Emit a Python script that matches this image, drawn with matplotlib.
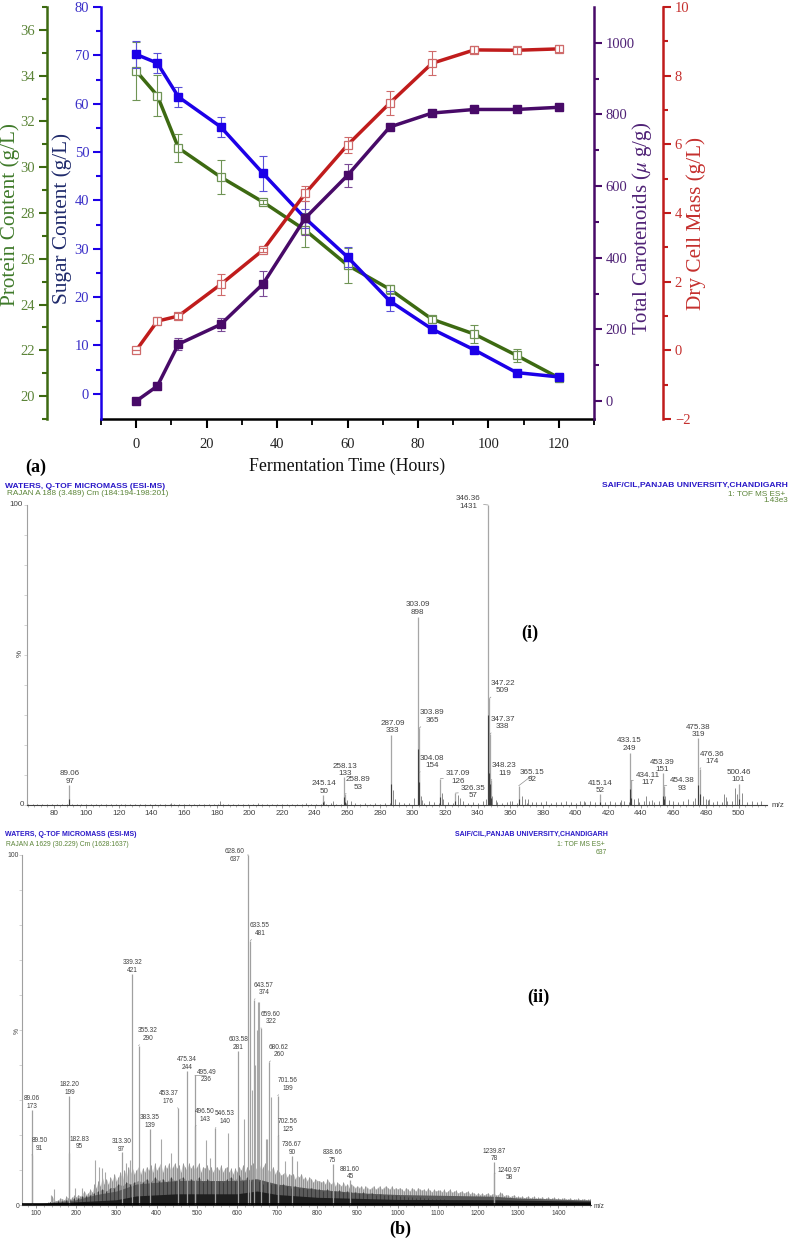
import numpy as np
import matplotlib
matplotlib.use("Agg")
import matplotlib.pyplot as plt
from matplotlib.ticker import MultipleLocator, FixedLocator

plt.rcParams["mathtext.fontset"] = "stix"

W, H = 789, 1238
SERIF = "Liberation Serif"
SANS = "Liberation Sans"

# fermentation time course
hours = [0, 6, 12, 24, 36, 48, 60, 72, 84, 96, 108, 120]
protein = [34.2, 33.13, 30.84, 29.57, 28.48, 27.25, 25.72, 24.67, 23.36, 22.71, 21.78, 20.8]
protein_err = [1.27, 0.9, 0.61, 0.74, 0.1, 0.73, 0.77, 0.2, 0.15, 0.38, 0.3, 0.2]
sugar = [70.2, 68.4, 61.4, 55.2, 45.6, 36.3, 28.3, 19.2, 13.4, 9.1, 4.4, 3.5]
sugar_err = [2.8, 2.0, 2.1, 2.1, 3.6, 2.0, 2.0, 2.0, 0.5, 0.5, 0.5, 0.5]
carotenoids = [0, 42, 159, 214, 327, 511, 630, 765, 804, 814, 814, 820]
carotenoids_err = [0, 0, 16, 19, 35, 47, 32, 0, 0, 0, 0, 0]
dry_mass = [0.0, 0.85, 1.0, 1.92, 2.92, 4.57, 5.98, 7.2, 8.36, 8.75, 8.74, 8.78]
dry_mass_err = [0, 0.12, 0.1, 0.3, 0.05, 0.23, 0.24, 0.36, 0.35, 0.1, 0.1, 0.1]

# spectrum (i), labelled peaks
peak_mz_i = [89.06, 245.14, 258.13, 258.89, 287.09, 303.09, 303.89, 304.08, 317.09, 326.35, 346.36, 347.22,
             347.37, 348.23, 365.15, 415.14, 433.15, 434.11, 453.39, 454.38, 475.38, 476.36, 500.46]
peak_int_i = [97, 50, 133, 53, 333, 898, 365, 154, 126, 57, 1431, 509,
              338, 119, 92, 52, 249, 117, 151, 93, 319, 174, 101]
label_dx_i = [1.5, 0.8, 0.7, 12.7, 1, 0, 13.2, 13.2, 18, 18, -19.7, 13,
              12.7, 13.3, 13, 0, 0, 17, 0, 17.7, 0, 12.2, -1]
label_dy_i = [0, 0, 0, 3.3, 1, 1, 4.5, 3.7, -6.4, -6, -5, 4,
              4, 3.3, 2.7, 0, 1, -6, 0, -6, 0, 3.5, 0.8]

# spectrum (i), unlabelled small peaks, % of base peak
minor_mz_i = [152, 182, 205, 246, 251, 260, 262, 288, 289, 301, 305, 306, 310, 318, 319, 328, 329, 345, 349, 351,
              360, 367, 369, 371, 405, 428, 436, 438, 443, 447, 455, 457, 469, 473, 478, 480, 482, 491, 492, 498, 499, 502]
minor_pct_i = [0.8, 1.2, 0.6, 1.5, 1.2, 1.8, 1.5, 5, 2, 2.5, 3, 1.6, 1.5, 4, 2, 3.2, 2.2, 2, 3, 1.8,
               1.4, 3, 2, 2, 1.5, 1.8, 2, 2.5, 3, 1.8, 3, 1.8, 2, 2.5, 3, 2, 2, 3.6, 2.8, 5.8, 3.6, 4]
# baseline noise on a 3 m/z grid from 64
noise_i = [0.3, 0.2, 0.4, 0.2, 0.3, 0.2, 0.3, 0.4, 0.2, 0.3, 0.2, 0.4, 0.3, 0.2, 0.3, 0.4, 0.2, 0.3, 0.2, 0.3,
           0.4, 0.3, 0.2, 0.4, 0.2, 0.3, 0.2, 0.4, 0.3, 0.2, 0.3, 0.5, 0.3, 0.2, 0.4, 0.3, 0.2, 0.5, 0.3, 0.2,
           0.4, 0.3, 0.2, 0.3, 0.5, 0.3, 0.4, 0.2, 0.3, 0.5, 0.3, 0.4, 0.2, 0.4, 0.5, 0.3, 0.4, 0.6, 0.3, 0.5,
           0.4, 0.3, 0.6, 0.4, 0.5, 0.7, 0.4, 0.6, 0.5, 0.8, 0.5, 0.7, 0.4, 0.8, 0.6, 0.5, 0.9, 0.6, 0.8, 0.5,
           1.0, 0.7, 0.8, 1.1, 0.6, 0.9, 1.0, 0.7, 0.9, 1.2, 0.7, 1.0, 0.8, 1.2, 0.9, 0.7, 1.1, 0.8, 1.0, 1.2,
           0.8, 1.0, 0.7, 1.1, 0.9, 1.0, 1.3, 0.8, 1.1, 0.9, 1.3, 1.0, 0.8, 1.2, 1.0, 1.4, 0.9, 1.2, 1.0, 1.5,
           1.1, 0.9, 1.3, 1.1, 1.5, 1.0, 1.2, 1.4, 1.0, 1.3, 1.5, 1.1, 1.3, 1.0, 1.5, 1.2, 1.4, 1.0, 1.3, 1.6,
           1.1, 1.4, 1.0, 1.5, 1.2, 1.0, 1.4, 1.1, 1.3, 1.0, 1.2]

# spectrum (ii), labelled peaks
peak_mz_ii = [89.06, 89.50, 182.20, 182.83, 313.30, 339.32, 355.32, 383.35, 453.37, 475.34, 495.49, 496.50, 546.53,
              603.58, 628.60, 633.55, 643.57, 659.60, 680.62, 701.56, 702.56, 736.67, 838.66, 881.60, 1239.87, 1240.97]
peak_int_ii = [173, 91, 199, 95, 97, 421, 290, 139, 176, 244, 236, 143, 140,
               281, 637, 481, 374, 322, 260, 199, 125, 90, 75, 45, 78, 58]
label_dx_ii = [0, 7.5, 0.3, 10, 0, 0.3, 9.4, 0, -9.7, 0, 11.3, 9.7, 9.6,
               0, -13.7, 9.6, 9.6, 9.9, 9.4, 10, 9.7, 0, 0, 0, 0, 15.2]
label_dy_ii = [0, 3.3, 0, 2.8, -1, 0, 3.7, 0, 3.3, 0, -7.7, 3.7, 3.3,
               0, -7.7, 4, 3.5, 3, 4, 3.7, 3.6, 0, 0, 0, 0, -8]

# spectrum (ii), unlabelled spikes, % of base peak
minor_mz_ii = [136, 145, 197, 215, 247, 257, 265, 272, 325, 335, 412, 435, 523, 532, 578, 617, 637, 645, 650,
               653, 655, 672, 676, 685, 720, 750]
minor_pct_ii = [3, 4.5, 5, 5, 13, 11, 10.5, 9.5, 12, 13, 19, 15, 18.5, 13.5, 20.5, 24.5, 33, 40, 50,
                58, 58, 19, 19, 31, 12.5, 12.5]
# jagged top of the grass on a 5 m/z grid from 130
grass_light = [0.8, 1, 2.5, 1.5, 1.2, 1.5, 2, 1.8, 1.5, 2.5, 2, 1.8, 2.2, 2.8, 2.4, 3, 2.5, 3.2, 4, 3, 3.5, 4.5, 3.6,
               6, 5, 7, 5.5, 8, 6, 7.5, 6, 8, 7, 9, 7, 8, 9.5, 7, 10, 8, 11, 9, 10.5, 9,
               10, 11, 9, 10.5, 9.5, 11, 10, 11.5, 9.5, 12, 10, 11, 12, 9.5, 11.5, 10.5, 12, 10, 11, 12, 10.5, 11.5,
               9.5, 12, 11, 10, 12, 10.5, 11.5, 10, 11, 12, 9.5, 11, 10.5, 11.5, 10, 11, 9.5, 10.5, 11, 10, 11.5, 9.5,
               10.5, 11, 9.5, 10.5, 9, 10.5, 9.5,
               11, 10, 11.5, 9.5, 11, 10, 11.5, 12, 10, 11, 12, 10, 11, 12, 10.5, 9.5, 10, 11, 9, 10,
               9.5, 8.5, 9, 9.5, 8, 9, 8.5, 9, 7.5, 8.5, 8, 9, 7.5, 8, 7, 8, 7.5, 6.5, 7.5, 7,
               7, 6.5, 7, 6, 7.5, 6.5, 6, 7, 5.5, 6.5, 6, 5.5, 6.5, 5.5, 6, 5, 6, 5.5, 5, 5.5,
               5, 5.5, 4.5, 5.5, 5, 4.5, 5, 5.5, 4.5, 5, 5.5, 4.5, 5, 5.5, 5, 4.5, 5.5, 4.5, 5, 4.5,
               5, 4.5, 4, 5, 4.5, 4, 5, 4.5, 4, 5, 4.5, 4.2, 4.6, 4, 4.8, 4.2, 3.8, 4.5, 4, 4.2,
               4.3, 3.8, 4.5, 3.6, 4, 4.6, 3.6, 3.9, 4.2, 3.4, 3.8, 4, 3.4, 3.7, 4, 3.2, 3.6, 3.4, 3, 3.5,
               3, 3.4, 2.9, 3.2, 3.5, 2.8, 3.1, 3.4, 2.8, 3, 3.6, 3.3, 2.6, 3, 2.8, 2.4, 2.7, 2.9, 2.3, 2.5,
               2.2, 2.6, 2, 2.3, 2.6, 2, 2.2, 2.5, 1.9, 2.2, 2, 2.4, 1.8, 2, 2.3, 1.8, 2, 2.2, 1.7, 2,
               1.6, 1.9, 2.1, 1.6, 1.8, 2, 1.5, 1.8, 1.6, 1.9, 1.5, 1.7, 1.8, 1.5, 1.6, 1.8]
# darker layer on a 10 m/z grid from 135
grass_mid = [1, 1, 1.2, 1.2, 1.5, 1.5, 2, 2, 2.5, 2.5, 3, 3.5, 4, 4.5, 4, 5, 5, 6, 5.5, 6.5, 6, 6.5,
             7, 6.5, 7.5, 6.5, 8, 7, 7.5, 6.5, 8, 7, 7.5, 8, 7, 7.5, 7, 8, 6.5, 7.5, 7, 6.5, 7, 6.5, 7.5, 8, 7, 8.5,
             7, 8, 7, 7.5, 7, 6, 6.5, 6, 6, 5.5, 6, 5.5, 5, 5.5, 5, 5, 4.5, 5, 4.5, 4.5, 4, 4.5, 4, 4, 4.2, 3.8, 4,
             3.6, 3.8, 3.5, 3.6, 3.2, 3.5, 3, 3.2, 3, 3, 2.8, 2.8, 2.5, 2.6, 2.2, 2.4, 2, 2.2, 2, 2, 1.8, 1.8, 1.6,
             1.6, 1.5, 1.5, 1.4, 1.5, 1.3, 1.4, 1.3, 1.3, 1.2, 1.2, 1.2, 1.1, 1.1, 1.1, 1, 1.1, 1, 1, 1, 0.9, 1,
             0.9, 0.9, 0.9, 0.9, 0.8, 0.9, 0.8, 0.8, 0.8, 0.8, 0.7, 0.8, 0.7, 0.7, 0.7]
band_mz = [65, 130, 200, 250, 300, 350, 450, 600, 650, 700, 800, 900, 1000, 1240, 1300, 1480]
band_pct = [0.2, 0.5, 1.5, 3, 4, 6, 7, 7, 7.5, 6, 4.5, 3.5, 3, 2.5, 2, 1.4]
core_mz = [65, 130, 200, 300, 350, 450, 600, 650, 700, 800, 1000, 1240, 1480]
core_pct = [0.3, 0.5, 0.9, 1.5, 2.6, 3.2, 3.2, 4, 3, 2.2, 1.6, 1.5, 1.1]

GREEN, GREEN_T = "#3d6a12", "#5b8438"
BLUE, BLUE_T = "#1c00e8", "#3a2fc8"
PURPLE, PURPLE_T = "#480a68", "#4f2276"
RED, RED_T = "#c01c1c", "#c5302e"


def px_axes(fig, left, top, right, bottom):
    return fig.add_axes([left / W, 1 - bottom / H, (right - left) / W, (bottom - top) / H])


def fig_text(fig, x, y, s, **kw):
    kw.setdefault("ha", "center")
    kw.setdefault("va", "center")
    fig.text(x / W, 1 - y / H, s, **kw)


def style_axis(ax, side, color, tcolor, major, minor, ylim, outward=0):
    ax.set_ylim(*ylim)
    ax.patch.set_visible(False)
    for s in ax.spines.values():
        s.set_visible(False)
    ax.spines[side].set_visible(True)
    ax.spines[side].set_color(color)
    ax.spines[side].set_linewidth(1.8)
    ax.spines[side].set_position(("outward", outward * 0.72))
    ax.yaxis.set_ticks_position(side)
    ax.yaxis.set_major_locator(FixedLocator(major))
    ax.yaxis.set_minor_locator(FixedLocator(minor))
    ax.tick_params(axis="y", which="major", length=6, width=1.5, color=color, labelcolor=tcolor,
                   labelsize=10.5, pad=2.5)
    ax.tick_params(axis="y", which="minor", length=3.6, width=1.5, color=color)
    for t in ax.get_yticklabels():
        t.set_fontfamily(SERIF)


def series(ax, y, err, color, ecolor, filled):
    if filled:
        ax.errorbar(hours, y, yerr=err, color=color, lw=2.5, marker="s", ms=6.4, mfc=color, mec=color,
                    ecolor=ecolor, elinewidth=0.8, capsize=3, capthick=0.8, clip_on=False)
    else:
        # error bars show through the open squares
        ax.plot(hours, y, color=color, lw=2.5, marker="s", ms=6.4, mfc="white", mec=ecolor, mew=0.9, clip_on=False)
        ax.errorbar(hours, y, yerr=err, fmt="none", ecolor=ecolor, elinewidth=0.8, capsize=3, capthick=0.8,
                    clip_on=False, zorder=4)


def spectrum(ax, xlim, step, mz, ints, base, dx, dy, fs, major_color="#a6a6a6"):
    ax.set_xlim(*xlim)
    ax.set_ylim(0, 100)
    ax.patch.set_visible(False)
    ax.spines["top"].set_visible(False)
    ax.spines["right"].set_visible(False)
    ax.spines["left"].set_color("#a0a0a0")
    ax.spines["left"].set_linewidth(0.8)
    ax.spines["bottom"].set_color("#404040")
    ax.spines["bottom"].set_linewidth(0.8)
    ax.xaxis.set_major_locator(MultipleLocator(step))
    ax.xaxis.set_minor_locator(MultipleLocator(step / 5))
    ax.yaxis.set_major_locator(FixedLocator([]))
    ax.yaxis.set_minor_locator(MultipleLocator(10))
    ax.tick_params(axis="x", which="major", length=2, width=0.5, color="#707070", labelsize=fs, pad=1.5,
                   labelcolor="#404040")
    ax.tick_params(axis="x", which="minor", length=1.2, width=0.4, color="#808080")
    ax.tick_params(axis="y", which="minor", length=2, width=0.4, color="#b0b0b0")
    for t in ax.get_xticklabels():
        t.set_fontfamily(SANS)
    pct = [v * 100 / base for v in ints]
    ax.vlines(mz, 0, pct, color=major_color, lw=0.9, zorder=3)
    for m, p, i, ox, oy in zip(mz, pct, ints, dx, dy):
        lead = dict(arrowstyle="-", color="#909090", lw=0.5, shrinkA=0, shrinkB=0) if (abs(ox) > 4) else None
        ax.annotate(f"{m:.2f}\n{i}", xy=(m, p), xytext=(ox * 0.72, oy * 0.72), textcoords="offset points",
                    ha="center", va="bottom", fontsize=fs, family=SANS, color="#404040", linespacing=1.1,
                    arrowprops=lead, annotation_clip=False, zorder=5)


fig = plt.figure(figsize=(W / 100, H / 100), dpi=100, facecolor="white")

# panel (a)
ax_p = px_axes(fig, 101, 7, 594, 419)
style_axis(ax_p, "left", GREEN, GREEN_T, list(range(20, 37, 2)), list(range(19, 38, 2)), (19, 37), outward=54)
ax_p.set_xlim(-10, 130)
series(ax_p, protein, protein_err, GREEN, "#6f9455", False)

# x axis lives on the protein axes, the twins share it
ax_p.spines["bottom"].set_visible(True)
ax_p.spines["bottom"].set_color("black")
ax_p.spines["bottom"].set_linewidth(1.8)
ax_p.xaxis.set_major_locator(FixedLocator(list(range(0, 121, 20))))
ax_p.xaxis.set_minor_locator(FixedLocator(list(range(-10, 131, 20))))
ax_p.tick_params(axis="x", which="major", length=6.5, width=1.5, labelsize=10.5, pad=7, labelcolor="#222222")
ax_p.tick_params(axis="x", which="minor", length=4, width=1.3)
for t in ax_p.get_xticklabels():
    t.set_fontfamily(SERIF)

ax_s = ax_p.twinx()
style_axis(ax_s, "left", BLUE, BLUE_T, list(range(0, 81, 10)), list(range(5, 80, 10)), (-5.2, 80))
series(ax_s, sugar, sugar_err, BLUE, "#5a50d8", True)

ax_c = ax_p.twinx()
style_axis(ax_c, "right", PURPLE, PURPLE_T, list(range(0, 1001, 200)), list(range(100, 1100, 200)), (-50, 1100))
series(ax_c, carotenoids, carotenoids_err, PURPLE, "#7a4a96", True)

ax_d = ax_p.twinx()
style_axis(ax_d, "right", RED, RED_T, list(range(-2, 11, 2)), list(range(-1, 10, 2)), (-2, 10), outward=69)
series(ax_d, dry_mass, dry_mass_err, RED, "#cf6a6a", False)

fig_text(fig, 10, 215, "Protein Content (g/L)", rotation=90, family=SERIF, fontsize=15.3, color="#3f7a2a")
fig_text(fig, 62, 219, "Sugar Content (g/L)", rotation=90, family=SERIF, fontsize=15.3, color="#1f2a6b")
fig_text(fig, 642, 228, r"Total Carotenoids ($\mu$ g/g)", rotation=90, family=SERIF, fontsize=15, color=PURPLE_T)
fig_text(fig, 696, 224, "Dry Cell Mass (g/L)", rotation=90, family=SERIF, fontsize=15.3, color=RED_T)
fig_text(fig, 347, 466, "Fermentation Time (Hours)", family=SERIF, fontsize=12.9, color="#111111")
fig_text(fig, 36, 467, "(a)", family=SERIF, fontsize=13, weight="bold")

# panel (b), spectrum (i)
ax_i = px_axes(fig, 27, 505, 767, 805)
spectrum(ax_i, (63.6, 517.4), 20, peak_mz_i, peak_int_i, 1431, label_dx_i, label_dy_i, 5.8)
ax_i.vlines(np.arange(len(noise_i)) * 3 + 64, 0, noise_i, color="#555555", lw=0.5, zorder=2)
ax_i.vlines(minor_mz_i, 0, minor_pct_i, color="#8a8a8a", lw=0.7, zorder=2)
ax_i.vlines(peak_mz_i, 0, [v * 100 / 1431 * 0.3 for v in peak_int_i], color="#404040", lw=0.8, zorder=4)

fig_text(fig, 5, 486, "WATERS, Q-TOF MICROMASS (ESI-MS)", ha="left", family=SANS, weight="bold", fontsize=6.1, color="#2a18c8")
fig_text(fig, 7, 493.7, "RAJAN A 188 (3.489) Cm (184:194-198:201)", ha="left", family=SANS, fontsize=5.9, color="#5b8438")
fig_text(fig, 788, 485.7, "SAIF/CIL,PANJAB UNIVERSITY,CHANDIGARH", ha="right", family=SANS, weight="bold", fontsize=6.1, color="#2a18c8")
fig_text(fig, 785.7, 494, "1: TOF MS ES+", ha="right", family=SANS, fontsize=5.9, color="#5b8438")
fig_text(fig, 788, 500.7, "1.43e3", ha="right", family=SANS, fontsize=5.9, color="#5b8438")
fig_text(fig, 23, 504.5, "100", ha="right", family=SANS, fontsize=5.8, color="#404040")
fig_text(fig, 24, 805, "0", ha="right", family=SANS, fontsize=5.8, color="#404040")
fig_text(fig, 20, 653, "%", rotation=90, family=SANS, fontsize=5.8, color="#404040")
fig_text(fig, 778, 805.7, "m/z", family=SANS, fontsize=5.8, color="#404040")
fig_text(fig, 530, 633, "(i)", family=SERIF, fontsize=13, weight="bold")

# panel (b), spectrum (ii)
ax_ii = px_axes(fig, 22, 855, 590.7, 1205)
spectrum(ax_ii, (65, 1480.6), 100, peak_mz_ii, peak_int_ii, 637, label_dx_ii, label_dy_ii, 4.7, major_color="#a0a0a0")
light_x = np.arange(len(grass_light)) * 5 + 130
mid_x = np.arange(len(grass_mid)) * 10 + 135
ax_ii.fill_between(light_x, 0, grass_light, color="#c4c4c4", lw=0, zorder=1.8)
ax_ii.vlines(light_x, 0, grass_light, color="#8c8c8c", lw=0.6, zorder=2)
ax_ii.fill_between(mid_x, 0, grass_mid, color="#8a8a8a", lw=0, zorder=2.1)
ax_ii.vlines(minor_mz_ii, 0, minor_pct_ii, color="#a8a8a8", lw=0.8, zorder=2.2)
ax_ii.fill_between(band_mz, 0, band_pct, color="#5a5a5a", lw=0, zorder=2.3)
ax_ii.vlines(mid_x, 0, grass_mid, color="#3c3c3c", lw=0.7, zorder=2.4)
ax_ii.fill_between(core_mz, 0, core_pct, color="#1e1e1e", lw=0, zorder=2.6)
ax_ii.plot([65, 1480.6], [0.3, 0.3], color="black", lw=1.2, zorder=3.5)

fig_text(fig, 5, 834, "WATERS, Q-TOF MICROMASS (ESI-MS)", ha="left", family=SANS, weight="bold", fontsize=5.0, color="#2a18c8")
fig_text(fig, 6, 844, "RAJAN A 1629 (30.229) Cm (1628:1637)", ha="left", family=SANS, fontsize=4.9, color="#5b8438")
fig_text(fig, 608, 834, "SAIF/CIL,PANJAB UNIVERSITY,CHANDIGARH", ha="right", family=SANS, weight="bold", fontsize=5.0, color="#2a18c8")
fig_text(fig, 605, 844, "1: TOF MS ES+", ha="right", family=SANS, fontsize=4.9, color="#5b8438")
fig_text(fig, 607, 852, "637", ha="right", family=SANS, fontsize=4.9, color="#5b8438")
fig_text(fig, 19, 855.5, "100", ha="right", family=SANS, fontsize=4.9, color="#404040")
fig_text(fig, 19, 1206, "0", ha="right", family=SANS, fontsize=4.9, color="#404040")
fig_text(fig, 17, 1031, "%", rotation=90, family=SANS, fontsize=4.9, color="#404040")
fig_text(fig, 599, 1206.5, "m/z", family=SANS, fontsize=4.9, color="#404040")
fig_text(fig, 538, 997, "(ii)", family=SERIF, fontsize=13, weight="bold")
fig_text(fig, 400, 1229, "(b)", family=SERIF, fontsize=13, weight="bold")

fig.savefig("out.png", dpi=100)
